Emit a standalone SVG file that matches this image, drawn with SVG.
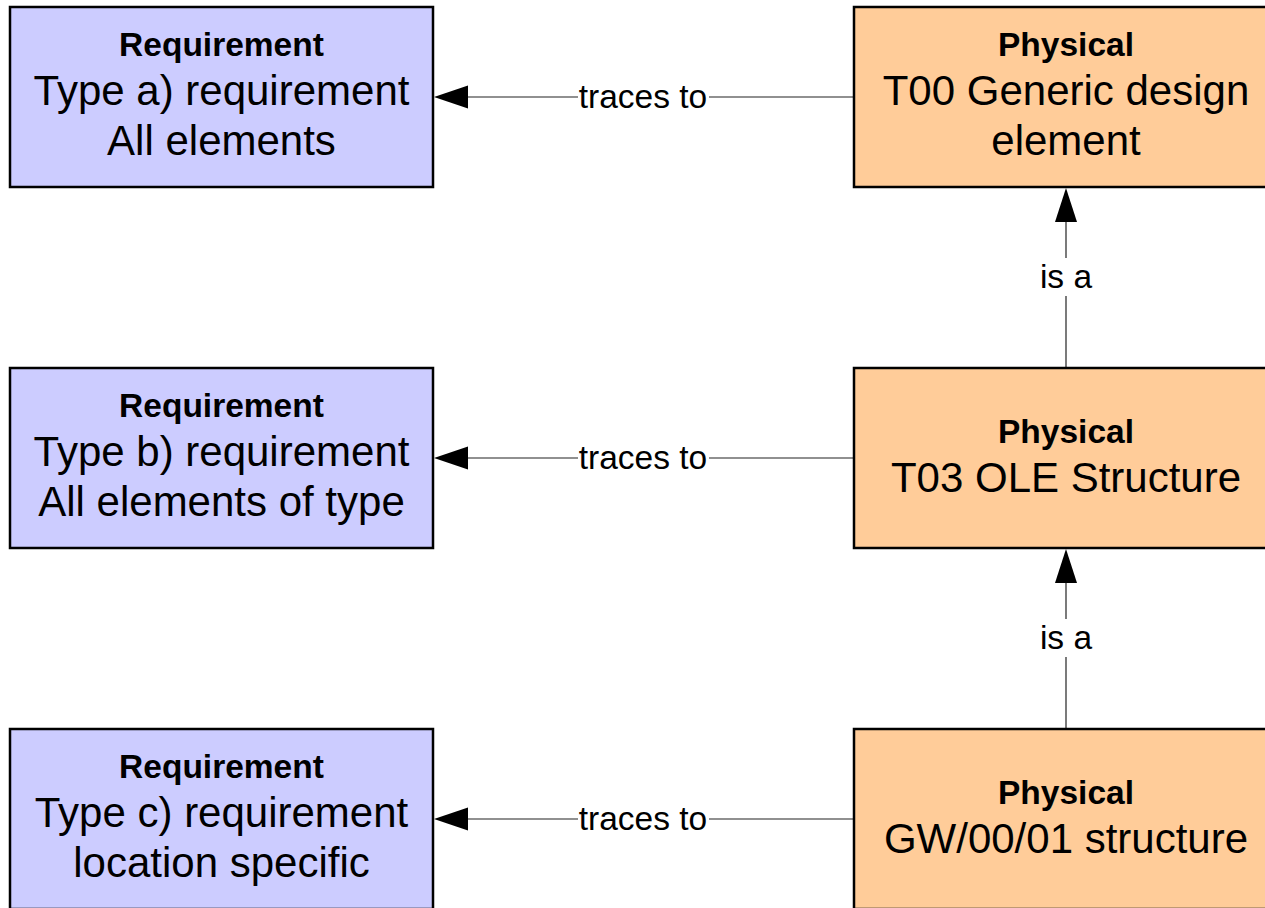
<svg xmlns="http://www.w3.org/2000/svg" width="1265" height="908" viewBox="0 0 1265 908">
  <defs>
    <style>
      .req { fill: #ccccff; stroke: #000; stroke-width: 2.5; }
      .phy { fill: #ffcc99; stroke: #000; stroke-width: 2.5; }
      .t { font-family: "Liberation Sans", Arial, sans-serif; fill: #000; text-anchor: middle; }
      .hd { font-size: 33.5px; font-weight: bold; }
      .bd { font-size: 42px; }
      .lb { font-size: 33.5px; }
      .ln { stroke: #222; stroke-width: 1.2; fill: none; }
      .bg { fill: #fff; }
      .ah { fill: #000; }
    </style>
  </defs>
  <rect width="1265" height="908" fill="#fff"/>

  <!-- connectors: "traces to" (horizontal) and "is a" (vertical) -->
  <g id="connectors">
    <line class="ln" x1="854" y1="97" x2="468" y2="97"/>
    <path class="ah" d="M434,97 L468,85.5 L468,108.5 Z"/>
    <rect class="bg" x="578" y="80" width="131" height="34"/>
    <text class="t lb" x="643" y="108">traces to</text>

    <line class="ln" x1="854" y1="458" x2="468" y2="458"/>
    <path class="ah" d="M434,458 L468,446.5 L468,469.5 Z"/>
    <rect class="bg" x="578" y="441" width="131" height="34"/>
    <text class="t lb" x="643" y="469">traces to</text>

    <line class="ln" x1="854" y1="819" x2="468" y2="819"/>
    <path class="ah" d="M434,819 L468,807.5 L468,830.5 Z"/>
    <rect class="bg" x="578" y="802" width="131" height="34"/>
    <text class="t lb" x="643" y="830">traces to</text>

    <line class="ln" x1="1066" y1="367" x2="1066" y2="222"/>
    <path class="ah" d="M1066,188 L1055,222 L1077,222 Z"/>
    <rect class="bg" x="1036" y="258" width="60" height="38"/>
    <text class="t lb" x="1066" y="288">is a</text>

    <line class="ln" x1="1066" y1="728" x2="1066" y2="583"/>
    <path class="ah" d="M1066,549 L1055,583 L1077,583 Z"/>
    <rect class="bg" x="1036" y="619" width="60" height="38"/>
    <text class="t lb" x="1066" y="649">is a</text>
  </g>

  <!-- requirement nodes -->
  <g id="req-a">
    <rect class="req" x="10" y="7" width="423" height="180"/>
    <text class="t hd" x="221.5" y="56">Requirement</text>
    <text class="t bd" x="221.5" y="105">Type a) requirement</text>
    <text class="t bd" x="221.5" y="155">All elements</text>
  </g>
  <g id="req-b">
    <rect class="req" x="10" y="368" width="423" height="180"/>
    <text class="t hd" x="221.5" y="417">Requirement</text>
    <text class="t bd" x="221.5" y="466">Type b) requirement</text>
    <text class="t bd" x="221.5" y="516">All elements of type</text>
  </g>
  <g id="req-c">
    <rect class="req" x="10" y="729" width="423" height="180"/>
    <text class="t hd" x="221.5" y="778">Requirement</text>
    <text class="t bd" x="221.5" y="827">Type c) requirement</text>
    <text class="t bd" x="221.5" y="877">location specific</text>
  </g>

  <!-- physical nodes -->
  <g id="phy-t00">
    <rect class="phy" x="854" y="7" width="424" height="180"/>
    <text class="t hd" x="1066" y="56">Physical</text>
    <text class="t bd" x="1066" y="105">T00 Generic design</text>
    <text class="t bd" x="1066" y="155">element</text>
  </g>
  <g id="phy-t03">
    <rect class="phy" x="854" y="368" width="424" height="180"/>
    <text class="t hd" x="1066" y="443">Physical</text>
    <text class="t bd" x="1066" y="492">T03 OLE Structure</text>
  </g>
  <g id="phy-gw">
    <rect class="phy" x="854" y="729" width="424" height="180"/>
    <text class="t hd" x="1066" y="804">Physical</text>
    <text class="t bd" x="1066" y="853">GW/00/01 structure</text>
  </g>
</svg>
